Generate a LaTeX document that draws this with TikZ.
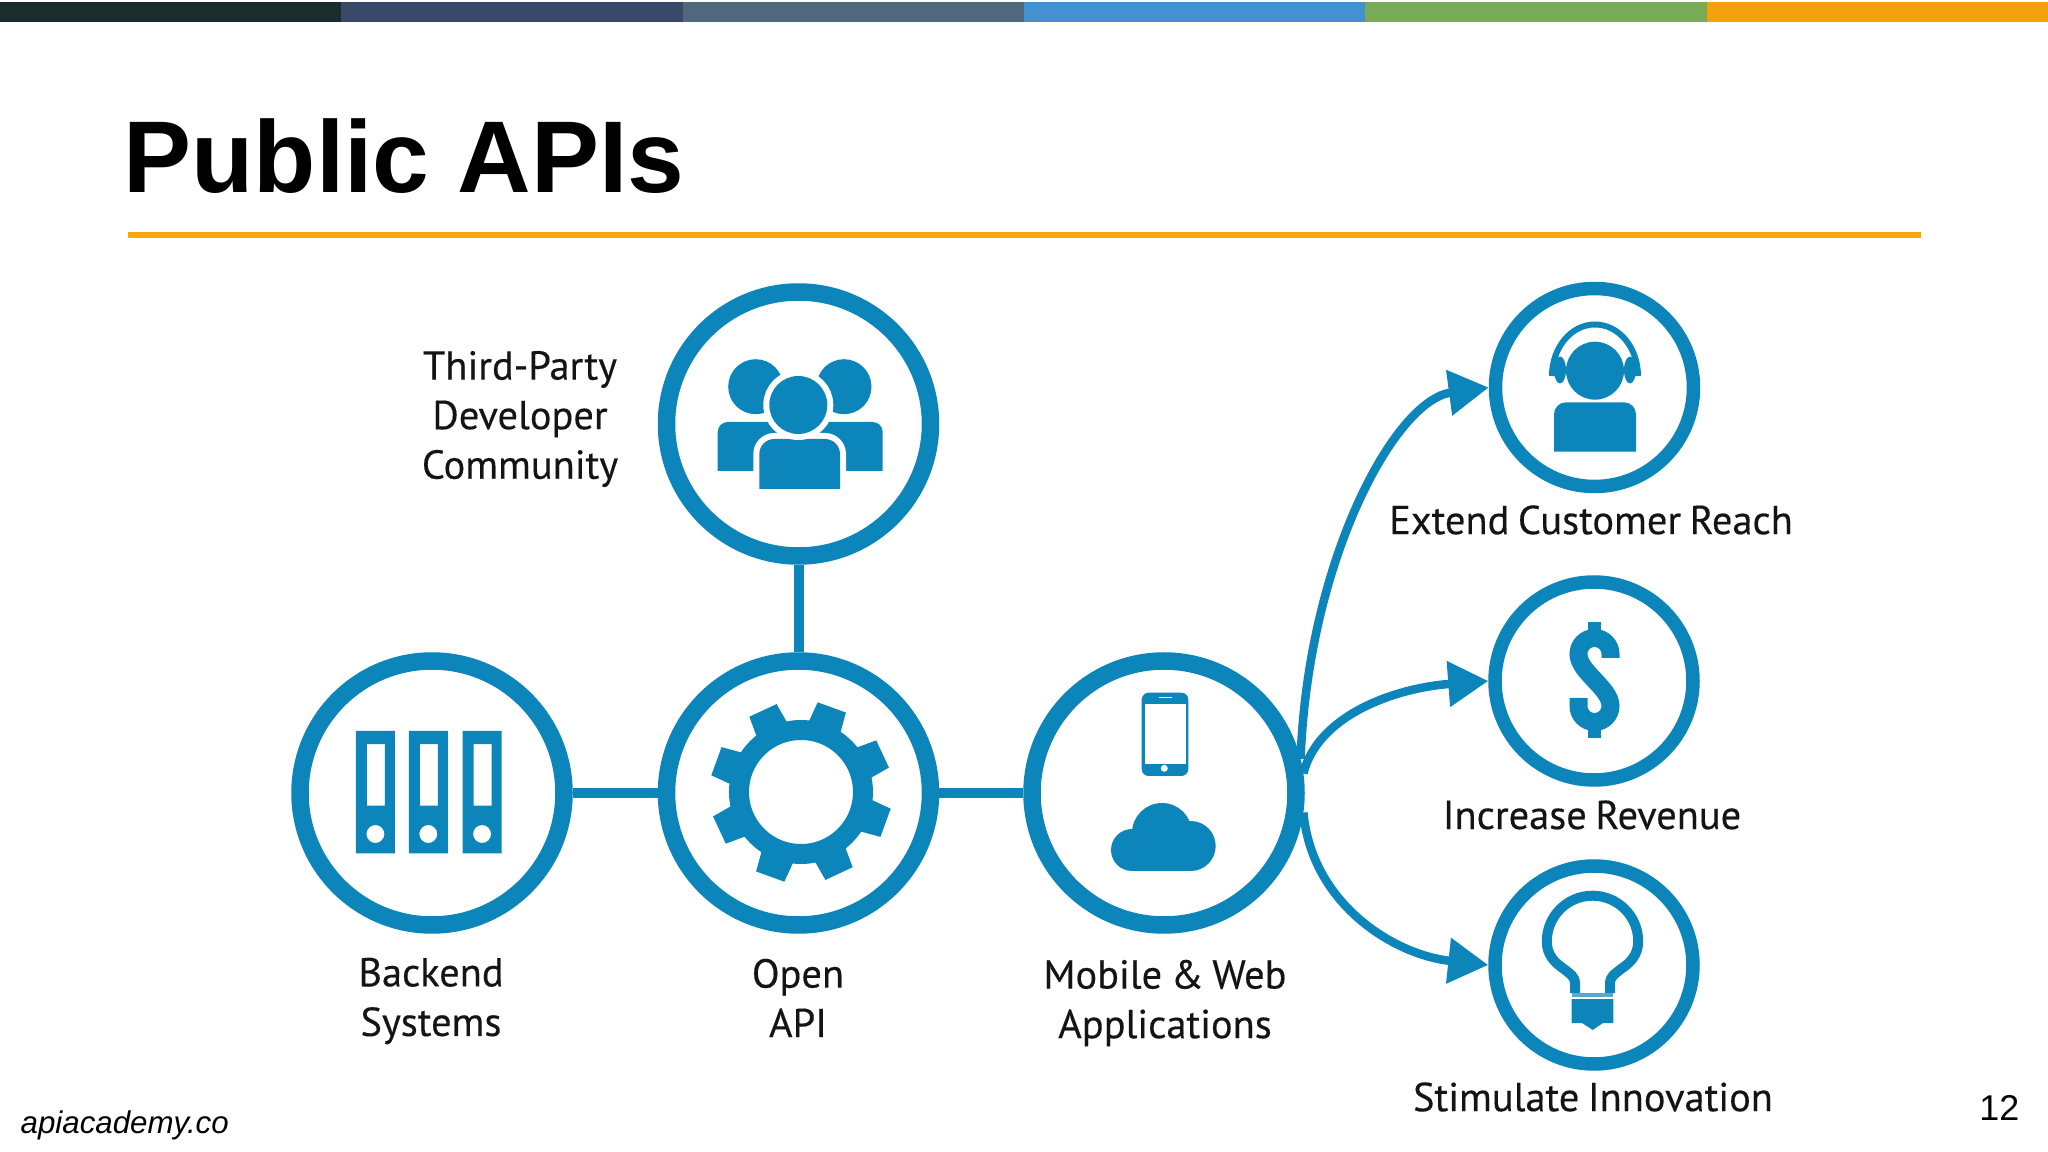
\documentclass[tikz,border=0pt]{standalone}
\usepackage{fontspec}
\usepackage{xcolor}
\usetikzlibrary{arrows.meta}
\setmainfont{Liberation Sans}
\newfontfamily\labelfont[FakeBold=.3,WordSpace=.8]{PT Sans}
\definecolor{apiblue}{HTML}{0C86BA}
\definecolor{apiorange}{HTML}{F9A60F}
\tikzset{
  hub/.style={circle,draw=apiblue,line width=.175cm,minimum size=2.64cm,inner sep=0},
  goal/.style={circle,draw=apiblue,line width=.135cm,minimum size=1.98cm,inner sep=0},
  label/.style={align=center,text=black!92,font=\labelfont\fontsize{11.5}{14.1}\selectfont},
  link/.style={draw=apiblue,line width=.1cm},
  flow/.style={draw=apiblue,line width=.085cm,-{Triangle[length=.4cm,width=.44cm]}},
  icon/.style={fill=apiblue},
  halo/.style={fill=apiblue,preaction={draw=white,line width=.12cm}},
}
\begin{document}
\begin{tikzpicture}
\useasboundingbox (0,0) rectangle (20.48,-11.52);
% Top band and title
\foreach \i/\c in {0/1B2C2D,1/38496A,2/50677D,3/4391D0,4/78AA58,5/F5A00D} {
  \definecolor{bandcolor}{HTML}{\c}
  \fill[bandcolor] ({\i*20.48/6},-.02) rectangle ({(\i+1)*20.48/6},-.22);
}
\node [anchor=base west,inner sep=0,font=\bfseries\fontsize{29}{29}\selectfont] (title) at (1.23,-1.93) {Public APIs};
\coordinate (ruleleft) at (1.28,-2.355);
\coordinate (ruleright) at (19.21,-2.355);
\draw[apiorange,line width=.06cm] (ruleleft) -- (ruleright);

% Circles
\node [hub] (third) at (7.985,-4.24) {};
\node [hub] (backend) at (4.32,-7.93) {};
\node [hub] (api) at (7.985,-7.93) {};
\node [hub] (mobile) at (11.64,-7.93) {};
\node [goal] (reach) at (15.945,-3.875) {};
\node [goal] (revenue) at (15.94,-6.81) {};
\node [goal] (innovation) at (15.94,-9.65) {};

% Labels
\node [label] (thirdtext) at (5.20,-4.19) {Third-Party\\Developer\\Community};
\node [label] (backendtext) at (4.31,-10.01) {Backend\\Systems};
\node [label] (apitext) at (7.98,-9.98) {Open\\API};
\node [label] (mobiletext) at (11.65,-10.03) {Mobile \& Web\\Applications};
\node [label] (reachtext) at (15.91,-5.20) {Extend Customer Reach};
\node [label] (revenuetext) at (15.92,-8.15) {Increase Revenue};
\node [label] (innovationtext) at (15.93,-10.97) {Stimulate Innovation};
\node [anchor=base west,inner sep=0,font=\itshape\fontsize{8.9}{10}\selectfont] (source) at (.20,-11.33) {apiacademy.co};
\node [anchor=base east,inner sep=0,font=\fontsize{10.2}{12}\selectfont] (pagenum) at (20.20,-11.20) {12};

% Draw the links
\draw[link] (third) -- (api);
\draw[link] (backend) -- (api);
\draw[link] (api) -- (mobile);
\draw[flow] (mobile.14) .. controls (13.08,-5.60) and (13.95,-4.00) .. (reach.west);
\draw[flow] (mobile.8) .. controls (13.18,-7.15) and (13.95,-6.88) .. (revenue.west);
\draw[flow] (mobile.-8) .. controls (13.12,-9.05) and (13.95,-9.55) .. (innovation.west);

% Community icon
\fill[icon] (7.557,-3.867) circle (.275);
\fill[icon] (8.44,-3.867) circle (.275);
\fill[icon] (7.177,-4.71) -- (7.177,-4.32) arc[start angle=180,end angle=90,radius=.1] -- (8.727,-4.22) arc[start angle=90,end angle=0,radius=.1] -- (8.827,-4.71) -- cycle;
\path[halo] (7.593,-4.89) -- (7.593,-4.54) arc[start angle=180,end angle=90,radius=.15] -- (8.25,-4.39) arc[start angle=90,end angle=0,radius=.15] -- (8.40,-4.89) -- cycle;
\path[halo] (7.983,-4.05) circle (.29);

% Binders icon
\foreach \x in {3.559,4.088,4.626} {
  \fill[icon,even odd rule] (\x,-7.31) rectangle ++(.39,-1.223)
    (\x+.11,-7.44) rectangle ++(.18,-.617)
    (\x+.195,-8.34) circle (.09);
}

% Gear icon
\begin{scope}[shift={(8.01,-7.92)}]
  \draw[apiblue,line width=.2cm] (0,0) circle (.62);
  \foreach \a in {25,70,...,340} {
    \fill[icon,rotate=\a] (.66,-.17) -- (.90,-.15) -- (.90,.15) -- (.66,.17) -- cycle;
  }
\end{scope}

% Phone and cloud icon
\fill[icon] (11.417,-6.927) [rounded corners=.07cm] rectangle (11.883,-7.76);
\fill[white] (11.45,-7.04) rectangle (11.857,-7.64);
\draw[white,line width=.012cm] (11.59,-6.977) -- (11.717,-6.977);
\fill[white] (11.643,-7.683) circle (.035);
\fill[icon] (11.32,-8.50) circle (.21);
\fill[icon] (11.62,-8.33) circle (.30);
\fill[icon] (11.907,-8.46) circle (.25);
\fill[icon] (11.32,-8.40) rectangle (11.907,-8.71);

% Headset icon
\fill[icon] (15.95,-3.707) circle (.29);
\fill[icon] (15.54,-4.517) -- (15.54,-4.143) arc[start angle=180,end angle=90,radius=.12] -- (16.24,-4.023) arc[start angle=90,end angle=0,radius=.12] -- (16.36,-4.517) -- cycle;
\draw[apiblue,line width=.06cm] (15.52,-3.76) arc[start angle=180,end angle=0,x radius=.43,y radius=.515];
\fill[icon] (15.60,-3.70) ellipse (.06 and .135);
\fill[icon] (16.30,-3.70) ellipse (.06 and .135);

% Dollar icon
\draw[apiblue,line width=.18cm] (16.105,-6.58) -- (16.105,-6.54) arc[start angle=0,end angle=180,radius=.16]
  .. controls (15.785,-6.72) and (16.105,-6.88) .. (16.105,-7.06) arc[start angle=0,end angle=-180,radius=.16] -- (15.785,-6.98);
\fill[icon] (15.877,-6.217) rectangle (16.01,-6.34);
\fill[icon] (15.877,-7.26) rectangle (16.01,-7.38);

% Bulb icon
\draw[apiblue,line width=.1cm] (15.75,-9.93) -- (15.75,-9.84) .. controls (15.75,-9.76) and (15.70,-9.74) .. (15.64,-9.69)
  .. controls (15.55,-9.63) and (15.468,-9.55) .. (15.468,-9.414)
  arc[start angle=180,end angle=0,radius=.457] .. controls (16.382,-9.55) and (16.30,-9.63) .. (16.21,-9.69)
  .. controls (16.15,-9.74) and (16.10,-9.76) .. (16.10,-9.84) -- (16.10,-9.93);
\fill[apiblue!70] (15.717,-9.93) rectangle (16.133,-9.97);
\fill[icon] (15.717,-9.99) -- (16.133,-9.99) -- (16.133,-10.23) -- (16.03,-10.23) -- (15.927,-10.30) -- (15.82,-10.23) -- (15.717,-10.23) -- cycle;
\end{tikzpicture}
\end{document}
